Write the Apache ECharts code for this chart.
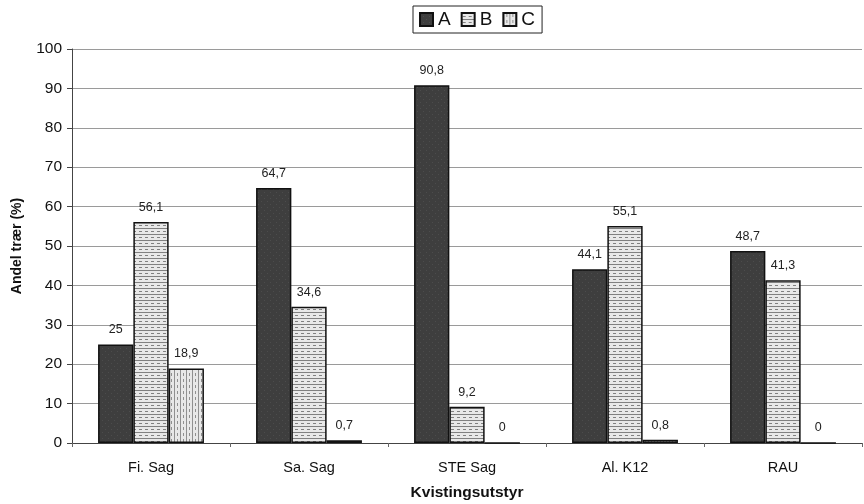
<!DOCTYPE html>
<html><head><meta charset="utf-8">
<script src="https://cdn.jsdelivr.net/npm/echarts@6/dist/echarts.min.js"></script>
<style>html,body{margin:0;padding:0;background:#fff}#c{width:864px;height:504px}</style>
</head><body><div id="c"></div>
<script>
const categories = ['Fi. Sag', 'Sa. Sag', 'STE Sag', 'Al. K12', 'RAU'];
const seriesA = [25, 64.7, 90.8, 44.1, 48.7];
const seriesB = [56.1, 34.6, 9.2, 55.1, 41.3];
const seriesC = [18.9, 0.7, 0, 0.8, 0];
const yTicks = [0, 10, 20, 30, 40, 50, 60, 70, 80, 90, 100];

function makePattern(kind) {
  const c = document.createElement('canvas');
  c.width = 6; c.height = 6;
  const g = c.getContext('2d');
  g.fillStyle = kind === 'A' ? '#3e3e3e' : '#e8e8e8';
  g.fillRect(0, 0, 6, 6);
  if (kind === 'A') {
    g.fillStyle = '#4c4c4c'; g.fillRect(0, 0, 1, 1); g.fillRect(3, 3, 1, 1);
  } else if (kind === 'B') {
    g.fillStyle = '#808080'; g.fillRect(0, 0, 6, 1); g.fillRect(1, 3, 3, 1);
  } else {
    g.fillStyle = '#909090'; g.fillRect(0, 0, 1, 6); g.fillRect(3, 1, 1, 3);
  }
  return { image: c, repeat: 'repeat' };
}

const fmt = p => String(p.value).replace('.', ',');
function mk(name, data, kind) {
  return {
    name, type: 'bar', data,
    barGap: '0%', barCategoryGap: '33%',
    itemStyle: { color: makePattern(kind), borderColor: '#111', borderWidth: 1.5 },
    label: { show: true, position: 'top', distance: 8, formatter: fmt,
      fontFamily: 'Liberation Sans, Arial', fontSize: 12.5, color: '#222' }
  };
}

const chart = echarts.init(document.getElementById('c'));
chart.setOption({
  animation: false,
  backgroundColor: '#fff',
  textStyle: { fontFamily: 'Liberation Sans, Arial' },
  legend: {
    top: 6, left: 413,
    data: ['A', 'B', 'C'],
    icon: 'rect',
    itemWidth: 13, itemHeight: 13, itemGap: 10,
    padding: [4, 7, 4, 6],
    borderColor: '#222', borderWidth: 1,
    textStyle: { fontSize: 19, color: '#111' }
  },
  grid: { left: 72, right: 2, top: 49, bottom: 61, containLabel: false, outerBoundsMode: 'none' },
  xAxis: {
    type: 'category', data: categories,
    name: 'Kvistingsutstyr', nameLocation: 'middle', nameGap: 42,
    nameTextStyle: { fontSize: 15.5, fontWeight: 'bold', color: '#111' },
    axisLine: { lineStyle: { color: '#444' } },
    axisTick: { show: true, length: 4, lineStyle: { color: '#666' } },
    axisLabel: { fontSize: 14.5, color: '#111', margin: 17 }
  },
  yAxis: {
    type: 'value', min: 0, max: 100, interval: 10,
    name: 'Andel trær (%)', nameLocation: 'middle', nameGap: 48,
    nameTextStyle: { fontSize: 14, fontWeight: 'bold', color: '#111' },
    axisLine: { show: true, lineStyle: { color: '#444' } },
    axisTick: { show: true, length: 5, lineStyle: { color: '#444' } },
    axisLabel: { fontSize: 15.5, color: '#111', margin: 10,
      formatter: v => yTicks.includes(v) ? String(v) : '' },
    splitLine: { show: true, lineStyle: { color: '#9a9a9a', width: 1 } }
  },
  series: [mk('A', seriesA, 'A'), mk('B', seriesB, 'B'), mk('C', seriesC, 'C')]
});
</script></body></html>
